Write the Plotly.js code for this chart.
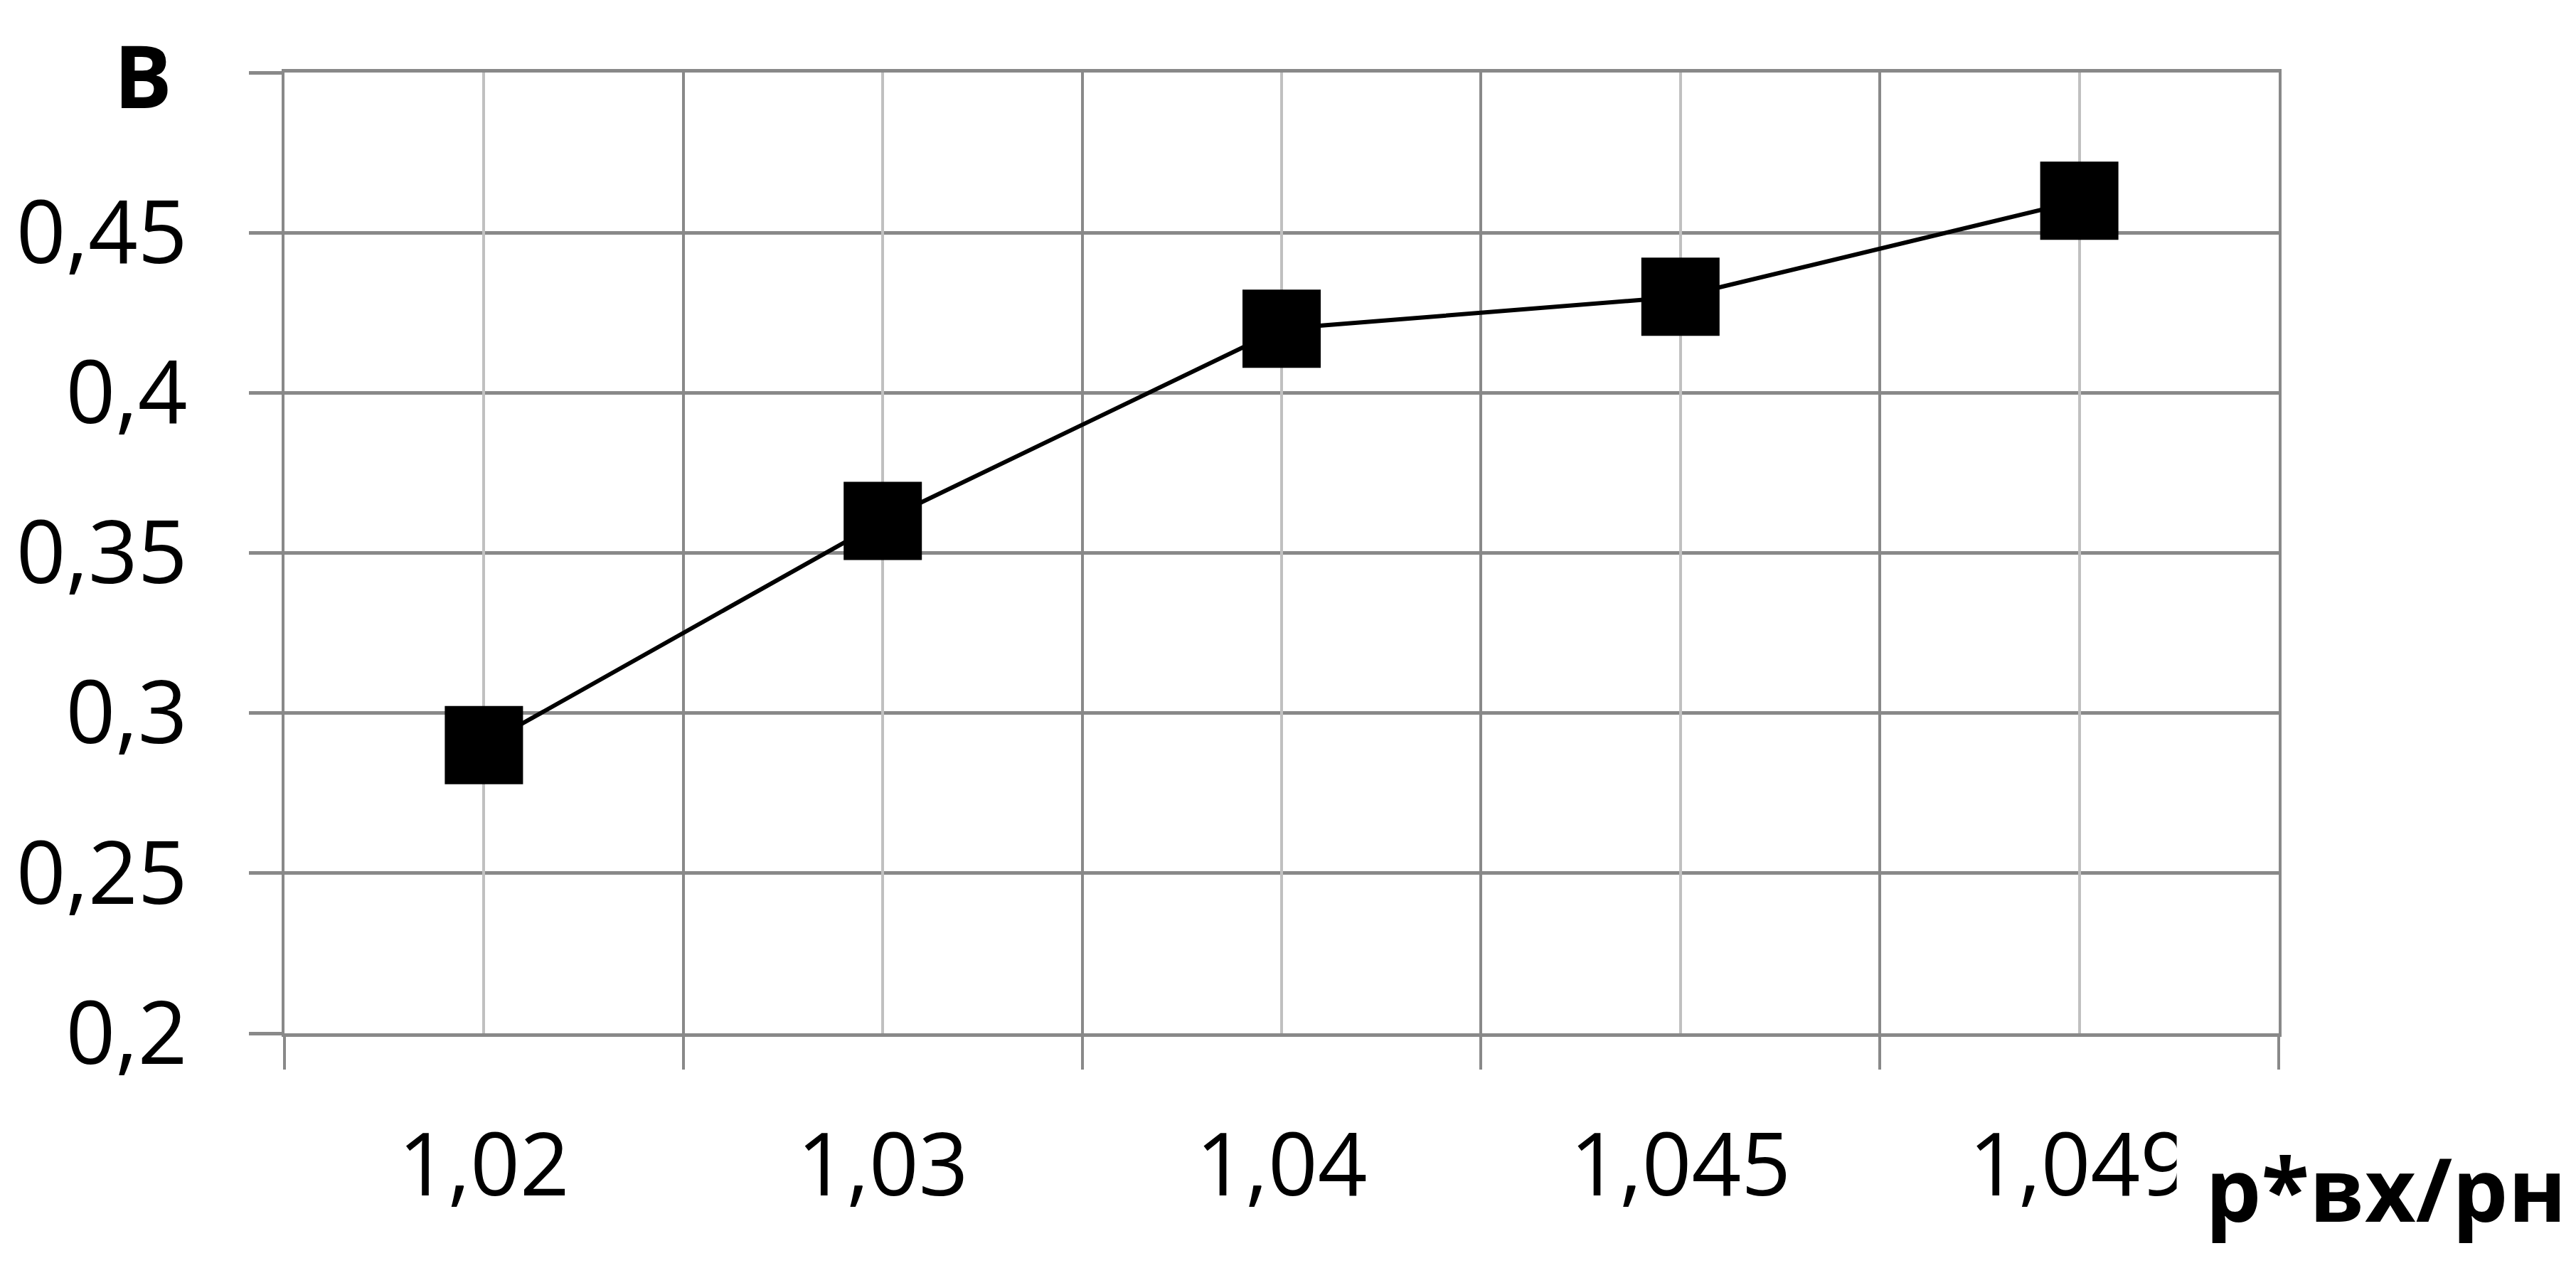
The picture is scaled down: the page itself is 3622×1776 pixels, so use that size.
<!DOCTYPE html>
<html><head><meta charset="utf-8">
<script src="https://cdn.plot.ly/plotly-3.0.1.min.js"></script>
<style>html,body{margin:0;padding:0;background:#fff}#chart{width:3622px;height:1776px}</style>
</head><body><div id="chart"></div>
<script>
// ---- data ----
const categories = ['1,02', '1,03', '1,04', '1,045', '1,049'];
const values = [0.29, 0.36, 0.42, 0.43, 0.46];
const yTickValues = [0.2, 0.25, 0.3, 0.35, 0.4, 0.45, 0.5];
const yTickLabels = ['0,2', '0,25', '0,3', '0,35', '0,4', '0,45', ''];
const yAxisLabel = 'В';
const xAxisLabel = 'р*вх/рн';

const FONT = 'Open Sans, DejaVu Sans, sans-serif';
const DARK = '#898989';
const LIGHT = '#c0c0c0';

const trace = {
  x: categories,
  y: values,
  type: 'scatter',
  mode: 'lines+markers',
  line: {color: '#000000', width: 6},
  marker: {symbol: 'square', size: 110, color: '#000000', line: {width: 0}},
  cliponaxis: false,
  showlegend: false,
  hoverinfo: 'skip'
};

const layout = {
  width: 3622, height: 1776,
  paper_bgcolor: '#ffffff', plot_bgcolor: '#ffffff',
  margin: {l: 400, r: 418, t: 102, b: 323, pad: 0},
  font: {family: FONT, color: '#000000', size: 122},
  showlegend: false,
  xaxis: {
    type: 'category',
    categoryarray: categories,
    range: [-0.5, categories.length - 0.5],
    tickson: 'boundaries',
    ticks: 'outside', ticklen: 46, tickwidth: 4, tickcolor: DARK,
    showgrid: true, gridcolor: DARK, gridwidth: 4,
    showline: true, linecolor: DARK, linewidth: 5, mirror: true,
    zeroline: false,
    ticklabelstandoff: 77,
    tickfont: {family: FONT, size: 122, color: '#000000'},
    fixedrange: true
  },
  xaxis2: {
    overlaying: 'x', anchor: 'y', side: 'bottom',
    type: 'linear',
    range: [-0.5, categories.length - 0.5],
    tickvals: categories.map((c, i) => i),
    showticklabels: false, ticks: '',
    showgrid: true, gridcolor: LIGHT, gridwidth: 4,
    showline: false, zeroline: false, fixedrange: true
  },
  yaxis: {
    range: [yTickValues[0], yTickValues[yTickValues.length - 1]],
    tickvals: yTickValues, ticktext: yTickLabels,
    ticks: 'outside', ticklen: 46, tickwidth: 5, tickcolor: DARK,
    showgrid: true, gridcolor: DARK, gridwidth: 5,
    showline: true, linecolor: DARK, linewidth: 4, mirror: true,
    zeroline: false,
    ticklabelstandoff: 62,
    tickfont: {family: FONT, size: 122, color: '#000000'},
    fixedrange: true
  },
  annotations: [
    {
      text: '<b>' + yAxisLabel + '</b>',
      xref: 'paper', yref: 'paper', x: -0.071, y: 0.998,
      xanchor: 'center', yanchor: 'middle', showarrow: false,
      font: {family: FONT, size: 122, color: '#000000'}
    },
    {
      text: '<b>' + xAxisLabel + '</b>',
      xref: 'paper', yref: 'paper', x: 0.9486, y: -0.16,
      xanchor: 'left', yanchor: 'middle', showarrow: false,
      bgcolor: '#ffffff', borderpad: 40,
      font: {family: FONT, size: 124, color: '#000000'}
    }
  ]
};

Plotly.newPlot('chart', [trace, {x: [], y: [], xaxis: 'x2', yaxis: 'y', showlegend: false}], layout, {staticPlot: true, displayModeBar: false});
</script>
</body></html>
